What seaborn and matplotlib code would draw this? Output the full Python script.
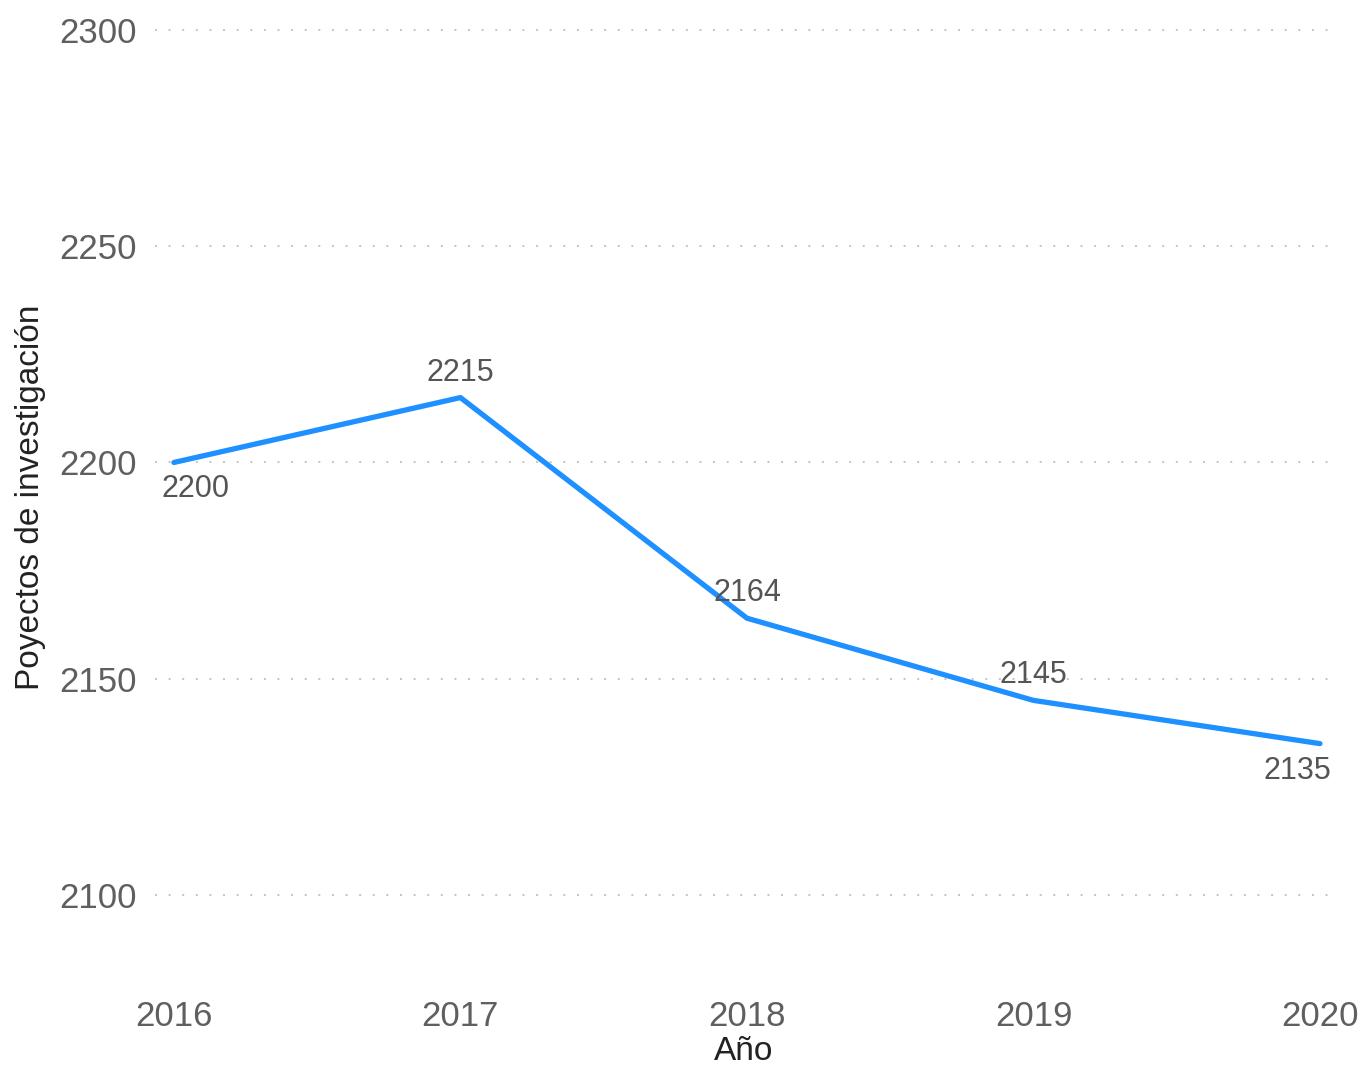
import pandas as pd
import matplotlib
matplotlib.use("Agg")
import matplotlib.pyplot as plt
import seaborn as sns

# data
years = [2016, 2017, 2018, 2019, 2020]
proyectos = [2200, 2215, 2164, 2145, 2135]
# label offsets (points) relative to each point
label_dx = [-9, 0, 0, 0, 8]
label_dy = [-19, 18, 18, 18, -20]
label_ha = ["left", "center", "center", "center", "right"]

df = pd.DataFrame({"Año": years, "Proyectos": proyectos})

sns.set_style("white")
plt.rcParams["font.family"] = ["Liberation Sans", "DejaVu Sans"]

fig = plt.figure(figsize=(13.63, 10.68), dpi=100)
ax = fig.add_axes([155 / 1363, 1 - 985 / 1068, (1332 - 155) / 1363, 975 / 1068])

sns.lineplot(data=df, x="Año", y="Proyectos", color="#1E90FF", linewidth=3.8, ax=ax)

for x, y, dx, dy, ha in zip(years, proyectos, label_dx, label_dy, label_ha):
    ax.annotate(str(y), (x, y), xytext=(dx, dy), textcoords="offset points",
                ha=ha, va="center", fontsize=22, color="#555555")

ax.set_xlim(2015.934, 2020.042)
ax.set_ylim(2079.2, 2304.6)
ax.set_xticks(years)
ax.set_yticks([2100, 2150, 2200, 2250, 2300])
ax.tick_params(axis="both", labelsize=25, labelcolor="#5f5f5f", length=0)
ax.tick_params(axis="x", pad=11)
ax.tick_params(axis="y", pad=13)
ax.grid(axis="y", linestyle=(0, (1, 6)), color="#c4c4c4", linewidth=1.4)
ax.grid(axis="x", visible=False)
for s in ax.spines.values():
    s.set_visible(False)

ax.set_xlabel("Año", fontsize=24, color="#222222", labelpad=2)
ax.set_ylabel("Poyectos de investigación", fontsize=24, color="#222222", labelpad=10)

fig.savefig("out.png", dpi=100)
